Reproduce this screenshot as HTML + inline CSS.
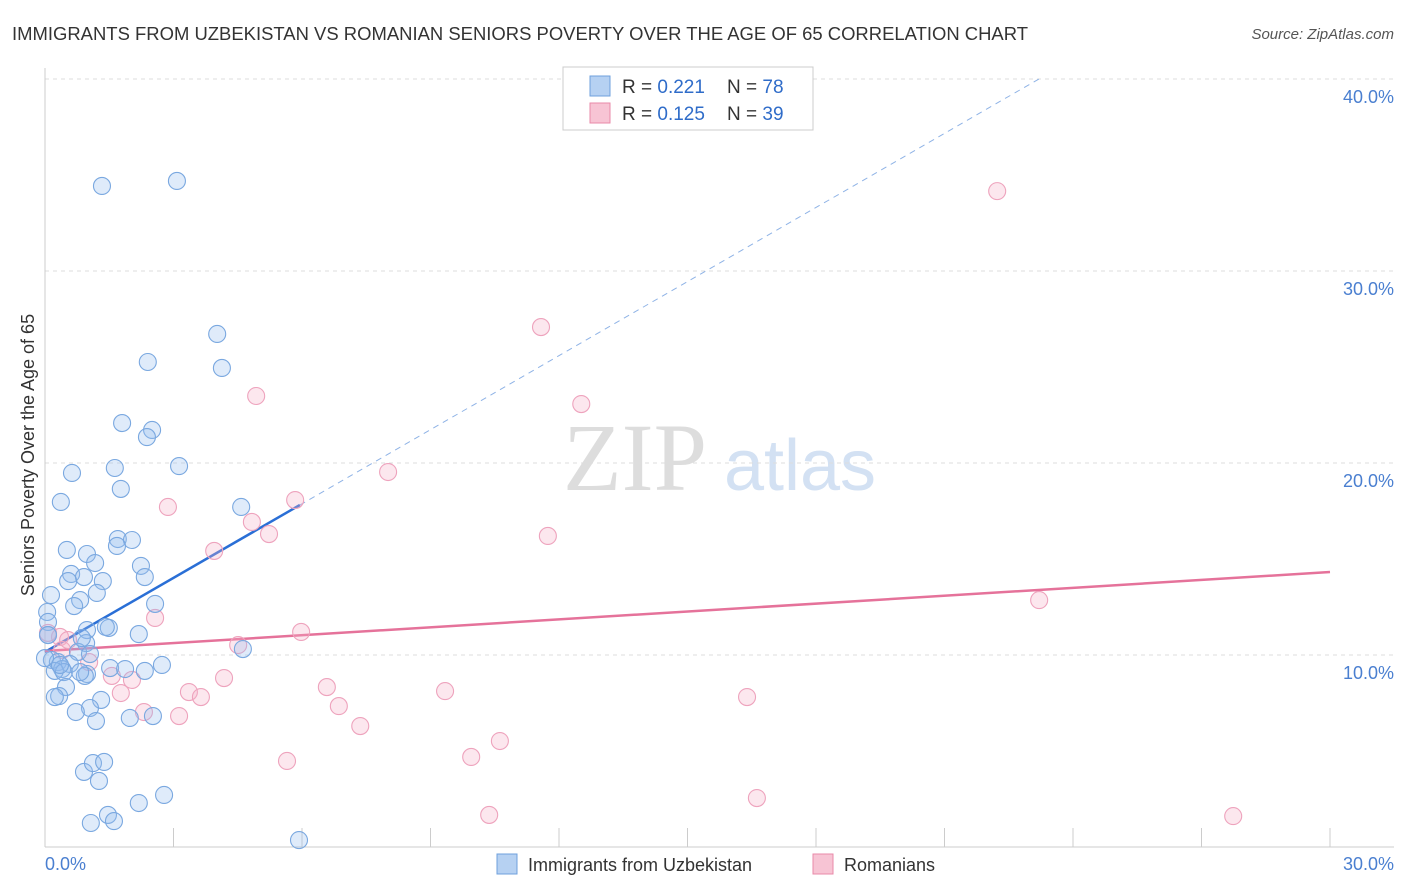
<!DOCTYPE html>
<html><head><meta charset="utf-8"><style>
body{margin:0;background:#fff;font-family:"Liberation Sans",sans-serif;}
svg{display:block}
</style></head><body>
<svg id="chart" width="1406" height="892">
<text x="12" y="40" font-size="18" fill="#333" textLength="1016" lengthAdjust="spacingAndGlyphs">IMMIGRANTS FROM UZBEKISTAN VS ROMANIAN SENIORS POVERTY OVER THE AGE OF 65 CORRELATION CHART</text>
<text x="1394" y="39" font-size="15" fill="#555" font-style="italic" text-anchor="end">Source: ZipAtlas.com</text>
<g>
<text x="635" y="490" font-size="96" fill="#ddd" font-family="Liberation Serif" text-anchor="middle">ZIP</text>
<text x="800" y="490" font-size="72" fill="#d3e1f3" text-anchor="middle">atlas</text></g>
<g id="grid"></g><g id="axes"></g><g id="trend"></g><g id="pts"></g>
<text x="34" y="455" font-size="18" fill="#333" text-anchor="middle" transform="rotate(-90 34 455)">Seniors Poverty Over the Age of 65</text>
<text x="45" y="870" font-size="18" fill="#4a7fd0">0.0%</text>
<text x="1394" y="870" font-size="18" fill="#4a7fd0" text-anchor="end">30.0%</text>
<g>
<rect x="563" y="67" width="250" height="63" fill="#fff" stroke="#ccc"/>
<rect x="590" y="76" width="20" height="20" fill="#b6d1f2" stroke="#6fa0dc"/>
<rect x="590" y="103" width="20" height="20" fill="#f7c4d4" stroke="#e88aa8"/>
<text x="622" y="93" font-size="19" fill="#333">R = <tspan fill="#2f6cc9">0.221</tspan></text>
<text x="727" y="93" font-size="19" fill="#333">N = <tspan fill="#2f6cc9">78</tspan></text>
<text x="622" y="120" font-size="19" fill="#333">R = <tspan fill="#2f6cc9">0.125</tspan></text>
<text x="727" y="120" font-size="19" fill="#333">N = <tspan fill="#2f6cc9">39</tspan></text></g>
<g>
<rect x="497" y="854" width="20" height="20" fill="#b6d1f2" stroke="#6fa0dc"/>
<text x="528" y="871" font-size="18" fill="#333">Immigrants from Uzbekistan</text>
<rect x="813" y="854" width="20" height="20" fill="#f7c4d4" stroke="#e88aa8"/>
<text x="844" y="871" font-size="18" fill="#333">Romanians</text></g>
</svg>
<script>
const yTicks=[10,20,30,40];
const xTickVals=[0,3,6,9,12,15,18,21,24,27,30];
const blueX=[1.33,3.08,4.02,2.40,4.13,1.80,2.50,2.38,3.13,1.63,0.63,1.77,0.37,4.58,1.70,2.03,1.68,0.51,0.98,1.17,2.24,0.61,2.33,0.91,0.54,1.35,0.14,1.21,0.82,2.57,0.68,0.05,0.07,0.98,1.49,1.42,2.19,0.07,0.96,4.62,0.77,1.05,0.16,0.30,0.58,0.40,0.23,2.73,1.52,1.87,2.33,0.44,0.98,0.93,0.49,0.33,0.23,1.31,1.05,0.72,1.19,1.98,2.52,0.91,1.12,1.38,1.26,2.78,2.19,1.47,1.61,1.07,5.93,0.07,0.35,0.0,0.82,0.86];
const blueY=[34.43,34.69,26.72,25.26,24.95,22.08,21.72,21.35,19.84,19.74,19.48,18.65,17.97,17.71,16.04,15.99,15.68,15.47,15.26,14.79,14.64,14.22,14.06,14.06,13.85,13.85,13.12,13.23,12.86,12.66,12.55,12.24,11.72,11.30,11.41,11.46,11.09,11.04,10.62,10.31,10.16,10.05,9.74,9.63,9.53,9.27,9.17,9.48,9.32,9.27,9.17,9.11,9.01,8.91,8.33,7.86,7.81,7.66,7.24,7.03,6.56,6.72,6.82,3.91,4.37,4.43,3.44,2.71,2.29,1.67,1.35,1.25,0.36,11.04,9.48,9.84,9.11,10.88];
const pinkX=[22.23,11.58,4.93,12.52,8.01,5.84,2.87,4.83,5.23,11.74,3.95,23.21,2.57,5.98,0.35,0.07,4.51,1.03,0.40,4.18,2.03,1.56,6.58,9.34,3.36,3.64,16.39,1.77,6.86,2.31,3.13,7.36,10.62,9.95,5.65,16.62,10.37,27.74,0.54];
const pinkY=[34.16,27.08,23.49,23.07,19.53,18.07,17.71,16.93,16.30,16.20,15.42,12.86,11.93,11.20,10.94,11.15,10.52,9.63,10.26,8.80,8.70,8.91,8.33,8.12,8.07,7.81,7.81,8.02,7.34,7.03,6.82,6.30,5.52,4.69,4.48,2.55,1.67,1.61,10.78];
const blueTrend=[10.16,1.286];
const pinkTrend=[10.21,0.137];
const NS='http://www.w3.org/2000/svg';
const X=v=>45+v*(1285/30), Y=v=>847-v*19.2;
function mk(tag,a,p){const e=document.createElementNS(NS,tag);for(const k in a)e.setAttribute(k,a[k]);document.getElementById(p).appendChild(e);return e;}
yTicks.forEach(t=>{
 const l=mk('line',{x1:45,x2:1394,y1:Y(t),y2:Y(t),stroke:'#ddd','stroke-dasharray':'4 4'},'grid');
 
 
 const tx=mk('text',{x:1394,y:Y(t)+24,'font-size':18,fill:'#4a7fd0','text-anchor':'end'},'grid');
 tx.textContent=t.toFixed(1)+'%';
 
 
});
const ax=mk('line',{x1:45,x2:1394,y1:847,y2:847,stroke:'#ccc'},'axes');


const ay=mk('line',{x1:45,x2:45,y1:68,y2:847,stroke:'#ccc'},'axes');


xTickVals.forEach(t=>{
 const l=mk('line',{x1:X(t),x2:X(t),y1:828,y2:847,stroke:'#ccc'},'axes');
 
 
});
const bx=5.95, bEnd=(40-blueTrend[0])/blueTrend[1]+0.1;
const bs=mk('line',{x1:X(0),y1:Y(blueTrend[0]),x2:X(bx),y2:Y(blueTrend[0]+blueTrend[1]*bx),stroke:'#2a6fd6','stroke-width':2.5},'trend');


const bd=mk('line',{x1:X(bx),y1:Y(blueTrend[0]+blueTrend[1]*bx),x2:X(bEnd),y2:Y(blueTrend[0]+blueTrend[1]*bEnd),stroke:'#8fb3e6','stroke-width':1,'stroke-dasharray':'6 5'},'trend');


const pt=mk('line',{x1:X(0),y1:Y(pinkTrend[0]),x2:X(30),y2:Y(pinkTrend[0]+pinkTrend[1]*30),stroke:'#e5729a','stroke-width':2.5},'trend');


pinkX.forEach((v,i)=>{
 const c=mk('circle',{cx:X(v),cy:Y(pinkY[i]),r:8.5,fill:'rgba(244,174,198,0.3)',stroke:'#eea3bd','stroke-width':1.1},'pts');
 
 
});
blueX.forEach((v,i)=>{
 const c=mk('circle',{cx:X(v),cy:Y(blueY[i]),r:8.5,fill:'rgba(150,190,238,0.3)',stroke:'#7aa8e0','stroke-width':1.1},'pts');
 
 
});
</script>
</body></html>
